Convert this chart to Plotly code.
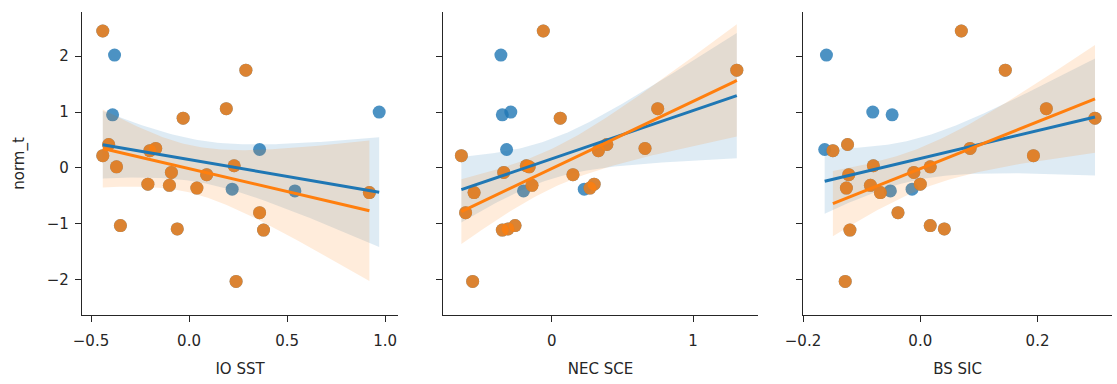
import math
import numpy as np
import plotly.graph_objects as go

# ---------------- data ----------------
# rows of the highlighted subset (orange)
sub_io_sst = [-0.44, 0.29, 0.19, -0.03, -0.41, -0.17, -0.44, -0.20, -0.37, 0.23, -0.09,
              0.09, -0.21, -0.10, 0.04, 0.92, 0.36, -0.35, -0.06, 0.38, 0.24]
sub_nec_sce = [-0.06, 1.31, 0.75, 0.06, 0.39, 0.66, -0.64, 0.33, -0.16, -0.18, -0.34,
               0.15, 0.30, -0.14, 0.27, -0.55, -0.61, -0.26, -0.31, -0.35, -0.56]
sub_bs_sic = [0.070, 0.145, 0.215, 0.298, -0.124, 0.085, 0.193, -0.149, 0.017, -0.080, -0.011,
              -0.122, 0.000, -0.085, -0.126, -0.068, -0.038, 0.017, 0.041, -0.120, -0.128]
sub_norm_t = [2.45, 1.75, 1.06, 0.89, 0.42, 0.35, 0.22, 0.31, 0.02, 0.04, -0.08,
              -0.12, -0.29, -0.31, -0.36, -0.44, -0.80, -1.03, -1.09, -1.11, -2.03]

# additional rows that belong only to the full set (blue = all rows)
extra_io_sst = [-0.38, -0.39, 0.97, 0.36, 0.22, 0.54]
extra_nec_sce = [-0.36, -0.35, -0.29, -0.32, 0.23, -0.20]
extra_bs_sic = [-0.160, -0.048, -0.081, -0.163, -0.014, -0.051]
extra_norm_t = [2.02, 0.95, 1.00, 0.33, -0.38, -0.41]

x_names = ["IO SST", "NEC SCE", "BS SIC"]
y_name = "norm_t"

BLUE = "#1f77b4"
ORANGE = "#ff7f0e"
TXT = "#262626"
FS = 15
Z95 = 1.96

sub_x = [sub_io_sst, sub_nec_sce, sub_bs_sic]
all_x = [sub_io_sst + extra_io_sst, sub_nec_sce + extra_nec_sce, sub_bs_sic + extra_bs_sic]
all_y = sub_norm_t + extra_norm_t


def fit(x, y):
    x = np.asarray(x, float)
    y = np.asarray(y, float)
    n = len(x)
    b, a = np.polyfit(x, y, 1)
    grid = np.linspace(x.min(), x.max(), 100)
    yhat = a + b * grid
    resid = y - (a + b * x)
    s = math.sqrt((resid ** 2).sum() / (n - 2))
    sxx = ((x - x.mean()) ** 2).sum()
    se = s * np.sqrt(1 / n + (grid - x.mean()) ** 2 / sxx)
    return grid, yhat, yhat - Z95 * se, yhat + Z95 * se


def rgba(hexc, a):
    h = hexc.lstrip("#")
    return "rgba(%d,%d,%d,%s)" % (int(h[0:2], 16), int(h[2:4], 16), int(h[4:6], 16), a)


fig = go.Figure()

line_traces = []
for i in range(3):
    xa = "x" if i == 0 else "x%d" % (i + 1)
    ya = "y" if i == 0 else "y%d" % (i + 1)
    groups = [(all_x[i], all_y, BLUE), (sub_x[i], sub_norm_t, ORANGE)]
    for xs, ys, col in groups:
        fig.add_trace(go.Scatter(x=xs, y=ys, mode="markers", xaxis=xa, yaxis=ya,
                                 marker=dict(size=13, color=col, opacity=0.8, line=dict(width=0)),
                                 showlegend=False, hoverinfo="skip"))
        grid, yhat, lo, hi = fit(xs, ys)
        fig.add_trace(go.Scatter(x=np.concatenate([grid, grid[::-1]]),
                                 y=np.concatenate([hi, lo[::-1]]),
                                 mode="lines", fill="toself", fillcolor=rgba(col, 0.15),
                                 line=dict(width=0), xaxis=xa, yaxis=ya,
                                 showlegend=False, hoverinfo="skip"))
        line_traces.append(go.Scatter(x=grid, y=yhat, mode="lines", xaxis=xa, yaxis=ya,
                                      line=dict(color=col, width=3),
                                      showlegend=False, hoverinfo="skip"))
for tr in line_traces:
    fig.add_trace(tr)

W, H = 1117, 384
ml, mr, mt, mb = 82, 5, 12, 69
pw = W - ml - mr


def dom(a, b):
    return [(a - ml) / pw, (b - ml) / pw]


axis_common = dict(showline=True, linecolor=TXT, linewidth=1.3, mirror=False,
                   ticks="outside", ticklen=6, tickwidth=1.3, tickcolor=TXT,
                   showgrid=False, zeroline=False, automargin=False,
                   tickfont=dict(family="DejaVu Sans", size=FS, color=TXT))

x_ranges = [[-0.546, 1.066], [-0.77, 1.46], [-0.2, 0.327]]
x_ticks = [([-0.5, 0.0, 0.5, 1.0], ["\u22120.5", "0.0", "0.5", "1.0"]),
           ([0, 1], ["0", "1"]),
           ([-0.2, 0.0, 0.2], ["\u22120.2", "0.0", "0.2"])]
x_doms = [dom(82, 398), dom(443, 758), dom(803, 1112)]

layout = dict(width=W, height=H, margin=dict(l=ml, r=mr, t=mt, b=mb),
              plot_bgcolor="white", paper_bgcolor="white",
              font=dict(family="DejaVu Sans", size=FS, color=TXT))

y_ticks = [-2, -1, 0, 1, 2]
y_text = ["\u22122", "\u22121", "0", "1", "2"]
for i in range(3):
    xk = "xaxis" if i == 0 else "xaxis%d" % (i + 1)
    yk = "yaxis" if i == 0 else "yaxis%d" % (i + 1)
    yref = "y" if i == 0 else "y%d" % (i + 1)
    xref = "x" if i == 0 else "x%d" % (i + 1)
    layout[xk] = dict(axis_common, domain=x_doms[i], range=x_ranges[i], anchor=yref,
                      tickvals=x_ticks[i][0], ticktext=x_ticks[i][1], ticklabelstandoff=6,
                      title=dict(text=x_names[i], standoff=14,
                                 font=dict(family="DejaVu Sans", size=FS, color=TXT)))
    ya = dict(axis_common, domain=[0, 1], range=[-2.63, 2.79], anchor=xref,
              tickvals=y_ticks, ticktext=y_text, showticklabels=(i == 0),
              ticklabelstandoff=3)
    if i == 0:
        ya["title"] = dict(text=y_name, standoff=18,
                           font=dict(family="DejaVu Sans", size=FS, color=TXT))
    layout[yk] = ya

fig.update_layout(**layout)
fig.write_html("out.html", config={"displayModeBar": False},
               post_script="document.body.style.margin='0px';")
